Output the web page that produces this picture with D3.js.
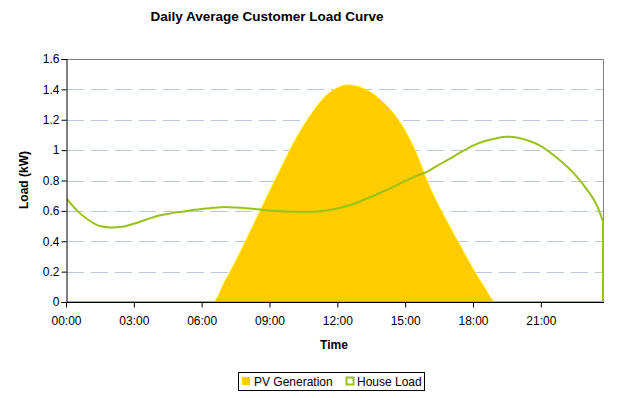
<!DOCTYPE html>
<meta charset="utf-8">
<html>
<head>
<script src="https://cdn.jsdelivr.net/npm/d3@7"></script>
<style>
body { margin: 0; background: white; }
text { font-family: "Liberation Sans", Arial, sans-serif; fill: #000; }
</style>
</head>
<body>
<script>
// half-hourly readings, last one at 23:45
var times = ["00:00","00:30","01:00","01:30","02:00","02:30","03:00","03:30",
  "04:00","04:30","05:00","05:30","06:00","06:30","07:00","07:30",
  "08:00","08:30","09:00","09:30","10:00","10:30","11:00","11:30",
  "12:00","12:30","13:00","13:30","14:00","14:30","15:00","15:30",
  "16:00","16:30","17:00","17:30","18:00","18:30","19:00","19:30",
  "20:00","20:30","21:00","21:30","22:00","22:30","23:00","23:30","23:45"];

var houseLoad = [0.685,0.60,0.54,0.50,0.49,0.495,0.515,0.54,
  0.565,0.58,0.592,0.603,0.612,0.62,0.625,0.622,
  0.617,0.61,0.603,0.598,0.595,0.594,0.595,0.603,
  0.615,0.635,0.662,0.693,0.726,0.76,0.797,0.83,
  0.86,0.905,0.946,0.99,1.03,1.058,1.077,1.088,
  1.082,1.06,1.027,0.975,0.913,0.84,0.748,0.63,0.53];

var pvGeneration = [0,0,0,0,0,0,0,0,
  0,0,0,0,0,0,0.13,0.27,
  0.42,0.575,0.73,0.88,1.03,1.16,1.27,1.36,
  1.41,1.43,1.415,1.38,1.32,1.24,1.13,0.98,
  0.79,0.63,0.49,0.355,0.22,0.10,0,0,
  0,0,0,0,0,0,0,0,0];

var xTicks = ["00:00","03:00","06:00","09:00","12:00","15:00","18:00","21:00"];
var yTicks = [0,0.2,0.4,0.6,0.8,1,1.2,1.4,1.6];

var W = 618, H = 398;
var plot = { left: 66, right: 603, top: 59, bottom: 302 };

function mins(t) { var p = t.split(":"); return (+p[0]) * 60 + (+p[1]); }

var data = times.map(function(t, i) {
  return { t: mins(t), load: houseLoad[i], pv: pvGeneration[i] };
});

var svg = d3.select("body").append("svg")
  .attr("width", W)
  .attr("height", H);

// keep the series from spilling left of the y axis
svg.append("defs").append("clipPath")
  .attr("id", "plotClip")
  .append("rect")
  .attr("x", plot.left + 1).attr("y", plot.top - 5)
  .attr("width", plot.right - plot.left + 5)
  .attr("height", plot.bottom - plot.top + 10);

var x = d3.scaleLinear().domain([0, mins("23:45")]).range([plot.left, plot.right]);
var y = d3.scaleLinear().domain([0, 1.6]).range([plot.bottom, plot.top]);

// gridlines
svg.append("g").selectAll("line")
  .data(yTicks.filter(function(d) { return d > 0 && d < 1.6; }))
  .enter().append("line")
  .attr("x1", plot.left + 1).attr("x2", plot.right)
  .attr("y1", function(d) { return Math.round(y(d)) + 0.5; })
  .attr("y2", function(d) { return Math.round(y(d)) + 0.5; })
  .style("stroke", "#b8c9da")
  .style("stroke-dasharray", "17,7");

// plot frame (top/right grey)
svg.append("path")
  .attr("d", "M" + (plot.left + 0.5) + "," + (plot.top + 0.5) + "H" + (plot.right + 0.5) + "V" + (plot.bottom + 0.5))
  .style("fill", "none")
  .style("stroke", "#808080");

var series = svg.append("g").attr("clip-path", "url(#plotClip)");

// PV area
var pvArea = d3.area()
  .x(function(d) { return x(d.t); })
  .y0(y(0))
  .y1(function(d) { return y(d.pv); })
  .curve(d3.curveMonotoneX);

series.append("path")
  .datum(data)
  .attr("d", pvArea)
  .style("fill", "#ffcc00")
  .style("stroke", "#fff200")
  .style("stroke-width", 0.8);

// House load: unfilled area (outline closes on the baseline)
var loadArea = d3.area()
  .x(function(d) { return x(d.t); })
  .y0(y(0))
  .y1(function(d) { return y(d.load); })
  .curve(d3.curveMonotoneX);

series.append("path")
  .datum(data)
  .attr("d", loadArea)
  .style("fill", "none")
  .style("stroke", "#99c21a")
  .style("stroke-width", 2);

// axes (drawn over the series)
var xAxis = d3.axisBottom(x)
  .tickValues(xTicks.map(mins))
  .tickSize(5)
  .tickFormat(function(d, i) { return xTicks[i]; });

var gx = svg.append("g")
  .attr("transform", "translate(0," + (plot.bottom + 0.5) + ")")
  .call(xAxis);
gx.select(".domain").attr("d", "M" + plot.left + ",0H" + (plot.right + 1));

var yAxis = d3.axisLeft(y)
  .tickValues(yTicks)
  .tickSize(5)
  .tickFormat(function(d) { return String(d); });

var gy = svg.append("g")
  .attr("transform", "translate(" + (plot.left + 0.5) + ",0)")
  .call(yAxis);

svg.selectAll(".domain, .tick line").style("stroke", "#000");
svg.selectAll(".tick text")
  .style("font-family", '"Liberation Sans", Arial, sans-serif')
  .style("font-size", "12px")
  .style("fill", "#000");
gx.selectAll(".tick text").attr("dy", "1.2em");
gy.selectAll(".tick text").attr("x", -7);

// titles
svg.append("text")
  .attr("x", 267).attr("y", 21)
  .attr("text-anchor", "middle")
  .style("font-size", "13.5px")
  .style("font-weight", "bold")
  .text("Daily Average Customer Load Curve");

svg.append("text")
  .attr("x", 334).attr("y", 349)
  .attr("text-anchor", "middle")
  .style("font-size", "12px")
  .style("font-weight", "bold")
  .text("Time");

svg.append("text")
  .attr("transform", "translate(28,180) rotate(-90)")
  .attr("text-anchor", "middle")
  .style("font-size", "12px")
  .style("font-weight", "bold")
  .text("Load (kW)");

// legend
var lg = svg.append("g");
lg.append("rect")
  .attr("x", 238.5).attr("y", 372.5)
  .attr("width", 186).attr("height", 18)
  .style("fill", "white").style("stroke", "#000");

lg.append("rect")
  .attr("x", 242).attr("y", 377)
  .attr("width", 8).attr("height", 8)
  .style("fill", "#ffcc00");
lg.append("text")
  .attr("x", 254).attr("y", 386)
  .style("font-size", "12px")
  .text("PV Generation");

lg.append("rect")
  .attr("x", 346.5).attr("y", 377.5)
  .attr("width", 7).attr("height", 7)
  .style("fill", "white").style("stroke", "#99c21a").style("stroke-width", 2);
lg.append("text")
  .attr("x", 357).attr("y", 386)
  .style("font-size", "12px")
  .text("House Load");
</script>
</body>
</html>
